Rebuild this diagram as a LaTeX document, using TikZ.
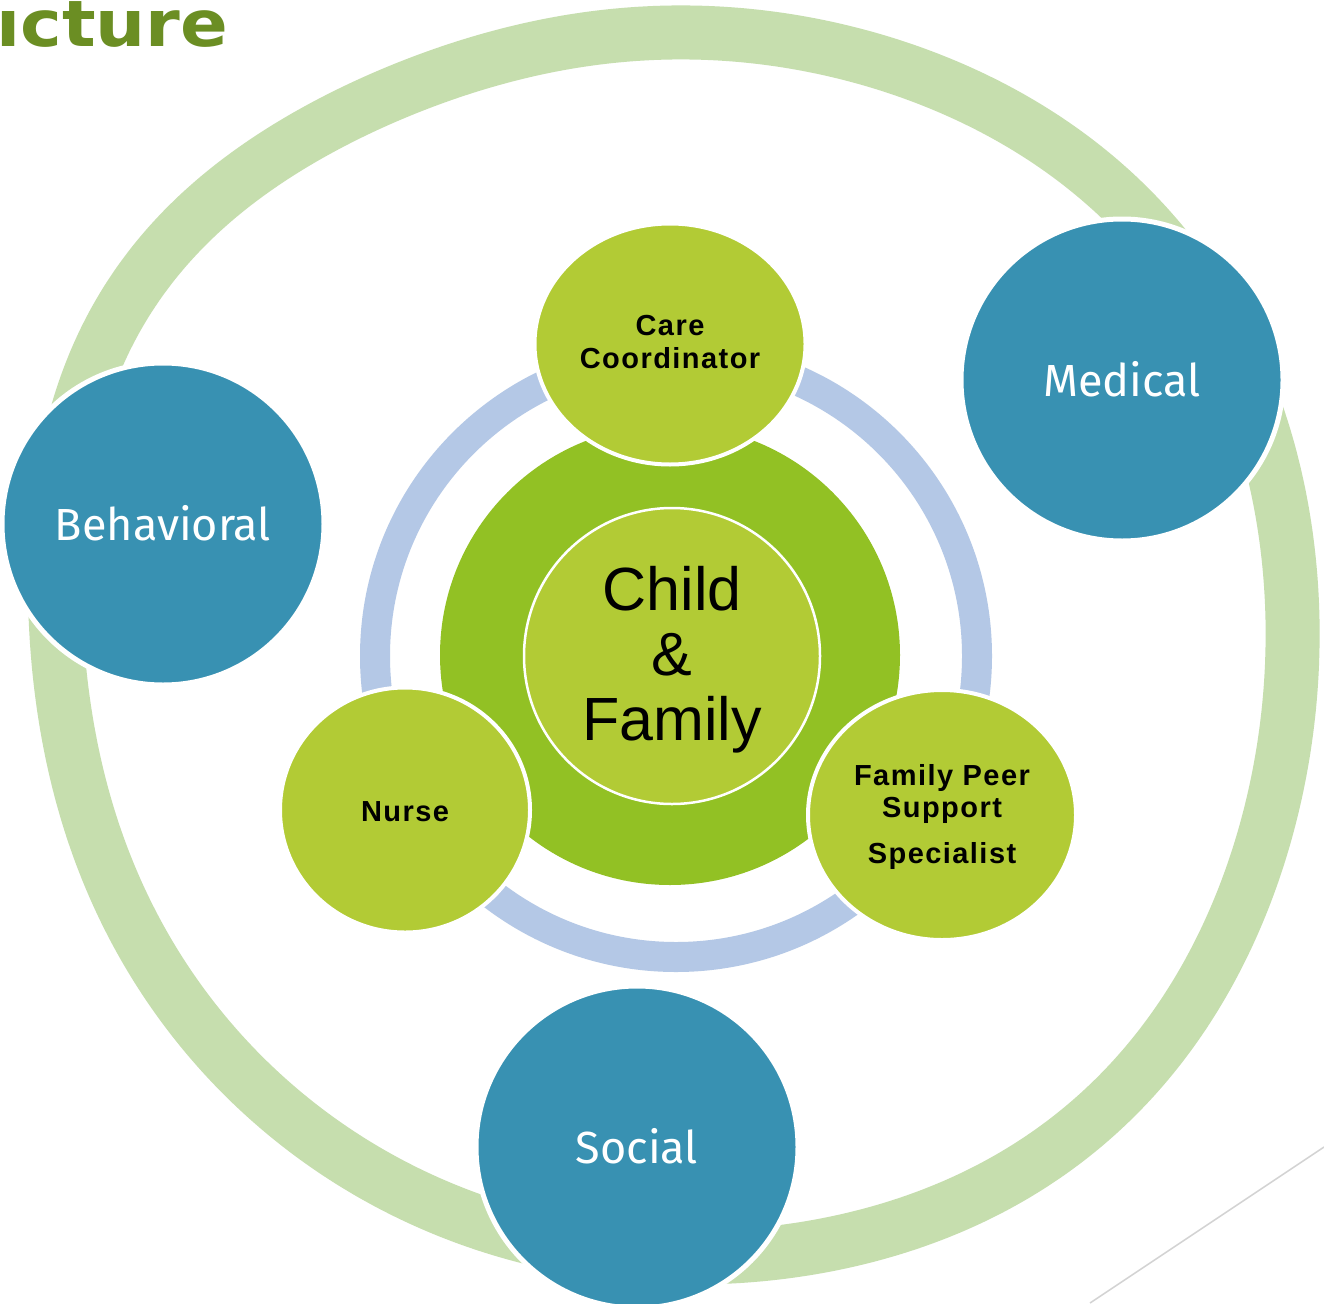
\documentclass[tikz,border=0pt]{standalone}
\usepackage{fontspec}
\setmainfont{Liberation Sans}
\newfontfamily\spfont{Liberation Sans}[LetterSpace=5]
\newfontfamily\teamfont{Fira Sans}
\newfontfamily\titlefont{DejaVu Sans}
\usetikzlibrary{shapes.geometric}
\definecolor{ringgreen}{HTML}{C6DEAE}
\definecolor{ringblue}{HTML}{B4C8E6}
\definecolor{darkgreen}{HTML}{92C124}
\definecolor{lime}{HTML}{B2CB35}
\definecolor{teal}{HTML}{3891B2}
\definecolor{titlegreen}{HTML}{6B8E23}
\definecolor{thinline}{HTML}{D3D3D3}
\tikzset{
  rolebox/.style={ellipse, fill=lime, draw=white, line width=4pt, inner sep=0pt},
  domainbox/.style={circle, fill=teal, draw=white, line width=5pt, inner sep=0pt, minimum size=322pt},
  domaintext/.style={anchor=base, text=white, font=\teamfont\fontsize{45}{50}\selectfont, inner sep=0pt},
  roletext/.style={anchor=base, text=black, font=\spfont\bfseries\fontsize{29}{33}\selectfont, inner sep=0pt},
  centertext/.style={anchor=base, text=black, font=\fontsize{61}{65}\selectfont, inner sep=0pt},
  declare function={bump(\t)=36*pow(max(0,cos(\t-148)),10)+17*pow(max(0,cos(\t-40)),8)+19*pow(max(0,cos(\t+50)),8);},
}
\begin{document}
\begin{tikzpicture}[x=1pt,y=-1pt]
\useasboundingbox (0,0) rectangle (1324,1303);
\clip (0,0) rectangle (1324,1303);
\fill[white] (0,0) rectangle (1324,1303);
% outer ring, drawn along its centre line (slightly irregular circle)
\draw[ringgreen, line width=54pt, line join=round]
  plot[domain=0:360, samples=181, smooth]
  ({677 + (613+bump(\x))*cos(\x)}, {644 - (611+bump(\x))*sin(\x)}) -- cycle;
% blue ring
\draw[ringblue, line width=30pt] (676,656) circle [radius=301];
% dark green disc
\node[circle, fill=darkgreen, minimum size=460pt, inner sep=0pt] (core) at (670,655) {};
% child & family disc
\node[circle, fill=lime, draw=white, line width=2.5pt, minimum size=296pt, inner sep=0pt] (child) at (672,656) {};
\node[centertext] (childA) at (672,610) {Child};
\node[centertext] (childB) at (672,675) {\&};
\node[centertext] (childC) at (672,740) {Family};
% role ellipses
\node[rolebox, minimum width=271pt, minimum height=241pt] (care) at (670,344) {};
\node[roletext] (careA) at (670,335) {Care};
\node[roletext] (careB) at (670,368) {Coordinator};
\node[rolebox, minimum width=250pt, minimum height=245pt] (nurse) at (405,810) {};
\node[roletext] (nurseA) at (405,821) {Nurse};
\node[rolebox, minimum width=268pt, minimum height=250pt] (peer) at (942,815) {};
\node[roletext] (peerA) at (942,785) {Family Peer};
\node[roletext] (peerB) at (942,817) {Support};
\node[roletext] (peerC) at (942,863) {Specialist};
% domain circles
\node[domainbox] (medical) at (1122,380) {};
\node[domaintext] (medicalT) at (1122,396) {Medical};
\node[domainbox] (behav) at (163,524) {};
\node[domaintext] (behavT) at (163,540) {Behavioral};
\node[domainbox] (social) at (637,1147) {};
\node[domaintext] (socialT) at (637,1163) {Social};
% title fragment
\node[anchor=base west, inner sep=0pt, text=titlegreen, font=\titlefont\bfseries\fontsize{64}{70}\selectfont] (title) at (-4,47) {\scalebox{1.1}[1]{ıcture}};
% thin decorative line
\coordinate (lineA) at (1090,1303);
\coordinate (lineB) at (1324,1147);
\draw[thinline, line width=1.5pt] (lineA) -- (lineB);
\end{tikzpicture}
\end{document}
